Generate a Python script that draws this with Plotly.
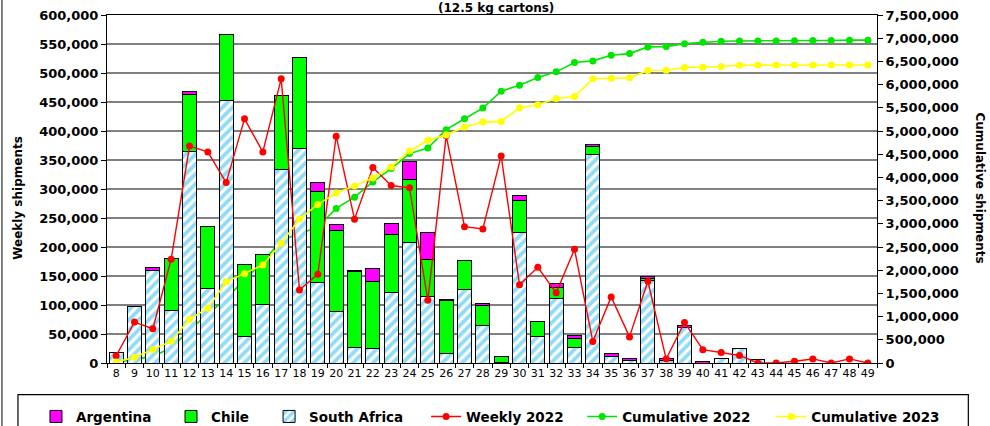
import plotly.graph_objects as go

weeks = [str(w) for w in range(8, 50)]

south_africa = [18000, 97000, 160000, 91000, 365000, 129000, 453000, 45000, 101000, 334000,
                370000, 139000, 89000, 27000, 25000, 122000, 208000, 115000, 16000, 126000,
                65000, 1000, 225000, 45000, 112000, 27000, 360000, 11000, 4000, 143000,
                4000, 61000, 0, 7000, 25000, 6000, 0, 0, 0, 0, 0, 0]
chile = [0, 0, 0, 89000, 98000, 106000, 114000, 125000, 86000, 128000,
         156000, 156000, 139000, 130000, 115000, 100000, 109000, 64000, 91000, 50000,
         35000, 11000, 55000, 26000, 19000, 15000, 13000, 1000, 0, 2000,
         0, 1000, 0, 0, 0, 0, 0, 0, 0, 0, 0, 0]
argentina = [0, 0, 5000, 0, 5000, 0, 0, 0, 0, 0,
             0, 17000, 11000, 2000, 23000, 18000, 30000, 46000, 2000, 0,
             3000, 0, 8000, 0, 6000, 5000, 4000, 5000, 4000, 5000,
             4000, 3000, 3000, 0, 0, 0, 0, 0, 0, 0, 0, 0]
weekly_2022 = [12500, 70500, 59000, 179000, 374000, 364000, 311000, 421000, 364000, 490000,
               126000, 153000, 391000, 248000, 337000, 306000, 302000, 108000, 392000, 235000,
               231000, 357000, 135000, 165000, 121000, 196000, 37000, 114000, 45000, 141000,
               7000, 70000, 23000, 18000, 13000, 0, 0, 3000, 7000, 0, 7000, 0]
cumulative_2022 = [13000, 80000, 142000, 329000, 709000, 1059000, 1382000, 1803000, 2167000, 2650000,
                   2779000, 2936000, 3331000, 3574000, 3903000, 4190000, 4513000, 4633000, 5029000, 5265000,
                   5493000, 5858000, 5987000, 6153000, 6275000, 6475000, 6511000, 6632000, 6668000, 6812000,
                   6819000, 6883000, 6911000, 6933000, 6941000, 6941000, 6941000, 6944000, 6951000, 6951000,
                   6958000, 6958000]
cumulative_2023 = [20000, 125000, 290000, 470000, 945000, 1180000, 1750000, 1926000, 2112000, 2579000,
                   3101000, 3417000, 3665000, 3817000, 3989000, 4225000, 4569000, 4800000, 4913000, 5085000,
                   5192000, 5207000, 5501000, 5566000, 5701000, 5744000, 6125000, 6138000, 6146000, 6303000,
                   6310000, 6367000, 6374000, 6389000, 6417000, 6423000, 6423000, 6423000, 6423000, 6423000,
                   6423000, 6423000]

W, H = 990, 426
L, R, T, B = 107, 876.7, 15, 363.3


def px_x(x):
    return (x - L) / (R - L)


def px_y(y):
    return (B - y) / (B - T)


FONT = "DejaVu Sans"
bold = dict(family=FONT, size=13, color="black", weight="bold")

fig = go.Figure()

fig.add_trace(go.Scatter(
    x=weeks, y=cumulative_2022, name="Cumulative 2022", mode="lines+markers",
    line=dict(color="#00E600", width=1.6), marker=dict(color="#00E600", size=7),
    yaxis="y", legend="legend5"))

fig.add_trace(go.Bar(
    x=weeks, y=south_africa, name="South Africa", yaxis="y2", legend="legend3",
    marker=dict(color="white", line=dict(color="black", width=1),
                pattern=dict(shape="/", fgcolor="#22B8F0", bgcolor="white", size=7, solidity=0.55))))
fig.add_trace(go.Bar(
    x=weeks, y=chile, name="Chile", yaxis="y2", legend="legend2",
    marker=dict(color="#00FF00", line=dict(color="black", width=1))))
fig.add_trace(go.Bar(
    x=weeks, y=argentina, name="Argentina", yaxis="y2", legend="legend",
    marker=dict(color="#FF00FF", line=dict(color="black", width=1))))

fig.add_trace(go.Scatter(
    x=weeks, y=weekly_2022, name="Weekly 2022", mode="lines+markers",
    line=dict(color="#FF0000", width=1.4), marker=dict(color="#FF0000", size=7),
    yaxis="y2", legend="legend4"))

fig.add_trace(go.Scatter(
    x=weeks, y=cumulative_2023, name="Cumulative 2023", mode="lines+markers",
    line=dict(color="#FFFF00", width=1.6), marker=dict(color="#FFFF00", size=7),
    yaxis="y3", legend="legend6"))

legend_y = px_y(417)
legend_common = dict(orientation="h", yanchor="middle", y=legend_y, xanchor="left",
                     bgcolor="rgba(0,0,0,0)", borderwidth=0,
                     font=dict(family=FONT, size=13.5, color="black", weight="bold"))
text_x = {"legend": 78, "legend2": 213, "legend3": 311, "legend4": 468, "legend5": 624, "legend6": 813}
legends = {k: dict(legend_common, x=px_x(v - 42)) for k, v in text_x.items()}

fig.update_layout(
    width=W, height=H,
    margin=dict(l=L, r=W - R, t=T, b=H - B, autoexpand=False),
    paper_bgcolor="white", plot_bgcolor="white",
    barmode="stack", bargap=0.22,
    showlegend=True,
    xaxis=dict(type="category", range=[-0.5, len(weeks) - 0.5], autorange=False,
               showline=True, linecolor="black", linewidth=1, mirror=True,
               ticks="outside", ticklen=4, tickcolor="black", tickson="boundaries",
               tickfont=dict(family=FONT, size=11, color="black"), tickangle=0,
               showgrid=False, automargin=False),
    yaxis=dict(side="right", range=[0, 7500000], dtick=500000, tickformat=",d",
               showline=True, linecolor="black", linewidth=1, ticks="outside", ticklen=5,
               tickcolor="black", showgrid=False, zeroline=False, automargin=False,
               tickfont=bold),
    yaxis2=dict(overlaying="y", side="left", range=[0, 600000], dtick=50000, tickformat=",d",
                showline=True, linecolor="black", linewidth=1, ticks="outside", ticklen=5,
                tickcolor="black", showgrid=True, gridcolor="#808080", gridwidth=1.6,
                zeroline=False, automargin=False, tickfont=bold),
    yaxis3=dict(overlaying="y", range=[0, 7500000], visible=False, automargin=False),
    **legends,
)

fig.add_annotation(text="(12.5 kg cartons)", xref="paper", yref="paper",
                   x=px_x(496), y=px_y(0), xanchor="center", yanchor="top", borderpad=0,
                   showarrow=False, font=dict(family=FONT, size=12, color="black", weight="bold"))
fig.add_annotation(text="Weekly shipments", xref="paper", yref="paper",
                   x=px_x(18), y=px_y(198), xanchor="center", yanchor="middle", textangle=-90,
                   showarrow=False, font=dict(family=FONT, size=12, color="black", weight="bold"))
fig.add_annotation(text="Cumulative shipments", xref="paper", yref="paper",
                   x=px_x(980), y=px_y(188), xanchor="center", yanchor="middle", textangle=90,
                   showarrow=False, font=dict(family=FONT, size=12, color="black", weight="bold"))

fig.add_shape(type="line", xref="paper", yref="paper", x0=px_x(2), x1=px_x(2),
              y0=px_y(-5), y1=px_y(H + 5), line=dict(color="black", width=1))
fig.add_shape(type="rect", xref="paper", yref="paper", x0=px_x(18), x1=px_x(968),
              y0=px_y(395), y1=px_y(H + 20), line=dict(color="black", width=1.2),
              fillcolor="rgba(0,0,0,0)", layer="below")

fig.write_html("out.html", config={"displayModeBar": False},
               post_script="document.body.style.margin='0px';document.body.style.overflow='hidden';")
